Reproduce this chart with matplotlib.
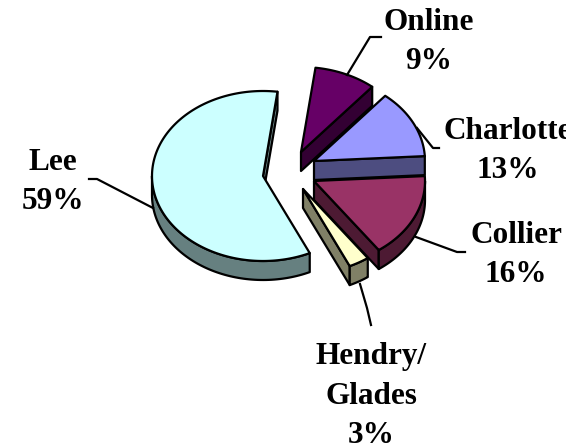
import numpy as np
import matplotlib
matplotlib.use('Agg')
import matplotlib.pyplot as plt
from matplotlib.patches import Polygon, Rectangle

plt.rcParams['font.family'] = ['Liberation Serif', 'DejaVu Serif']

# slices clockwise, starting with Online
labels = ['Online\n9%', 'Charlotte\n13%', 'Collier\n16%', 'Hendry/\nGlades\n3%', 'Lee\n59%']
values = [9, 13, 16, 3, 59]

top_colors = ['#660066', '#9999FF', '#993366', '#FFFFCC', '#CCFFFF']
side_colors = ['#330033', '#4D4D80', '#4D1A33', '#808066', '#668080']

# layout, pixels
apex = [(301, 152), (314, 161), (314, 181), (303, 189), (263, 176)]
label_pos = [(429, 42), (508, 151), (516, 255), (371, 396), (53, 182)]
leaders = [[(347, 75), (370, 37), (381, 37)],
           [(417, 128), (433, 148), (439, 148)],
           [(416, 237), (457, 252), (465, 252)],
           [(360, 284), (367, 308), (371, 325)],
           [(153, 208), (97, 179), (89, 179)]]
RX, RY, DEPTH = 111, 85, 19
START = 7.5

fig = plt.figure(figsize=(5.78, 4.48), dpi=100)
ax = fig.add_axes([0, 0, 1, 1])
ax.set_xlim(0, 578)
ax.set_ylim(448, 0)
ax.axis('off')


def rim_xy(cx, cy, t):
    t = np.radians(t)
    return cx + RX * np.sin(t), cy - RY * np.cos(t)


def draw_slice(i, t0, t1):
    cx, cy = apex[i]
    kw = dict(edgecolor='black', linewidth=1.6, joinstyle='round')
    # cut faces
    for t, visible in [(t0, np.sin(np.radians(t0)) < 0), (t1, np.sin(np.radians(t1)) > 0)]:
        if visible:
            ex, ey = rim_xy(cx, cy, t)
            ax.add_patch(Polygon([(cx, cy), (ex, ey), (ex, ey + DEPTH), (cx, cy + DEPTH)],
                                 facecolor=side_colors[i], zorder=i * 3 + 1, **kw))
    # outer wall, front half of the circle only
    lo, hi = max(t0, 90), min(t1, 270)
    if hi > lo:
        tt = np.linspace(lo, hi, 80)
        x, y = rim_xy(cx, cy, tt)
        pts = list(zip(x, y)) + list(zip(x[::-1], y[::-1] + DEPTH))
        ax.add_patch(Polygon(pts, facecolor=side_colors[i], zorder=i * 3 + 2, **kw))
    # top face
    tt = np.linspace(t0, t1, 160)
    x, y = rim_xy(cx, cy, tt)
    pts = [(cx, cy)] + list(zip(x, y))
    ax.add_patch(Polygon(pts, facecolor=top_colors[i], zorder=i * 3 + 3, **kw))


angles = START + np.concatenate([[0], np.cumsum(values)]) * 3.6
for i in range(len(values)):
    draw_slice(i, angles[i], angles[i + 1])

# Charlotte runs off the chart frame in the original
frame = Rectangle((0, 0), 566, 448, transform=ax.transData)
for i, lab in enumerate(labels):
    t = ax.text(label_pos[i][0], label_pos[i][1], lab, fontsize=22.5, fontweight='bold',
                ha='center', va='center', color='black', linespacing=1.46, zorder=30)
    t.set_clip_path(frame)
    t.set_clip_on(True)
    xs, ys = zip(*leaders[i])
    ax.plot(xs, ys, color='black', lw=1.6, zorder=29)

fig.savefig('out.png', dpi=100)
